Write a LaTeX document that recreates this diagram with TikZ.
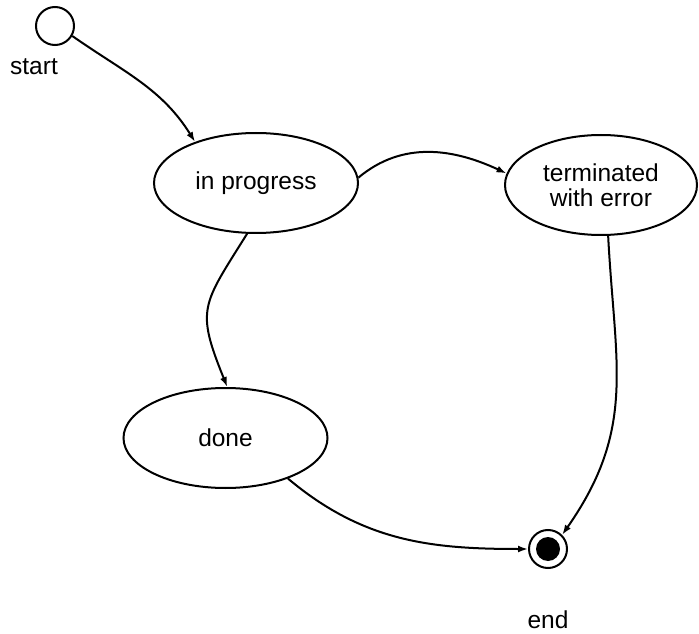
\documentclass[tikz,border=0pt]{standalone}
\usepackage{fontspec}
\setmainfont{Liberation Sans}
\usetikzlibrary{shapes.geometric,arrows.meta}

\begin{document}
\begin{tikzpicture}[x=1pt,y=1pt,every path/.style={>={Latex[length=10pt,width=7pt]}},
		every node/.style={font=\fontsize{24.5}{25}\selectfont},
		state/.style={ellipse,draw,line width=2pt,minimum width=204pt,minimum height=100pt,inner sep=0pt,align=center},
		trans/.style={line width=2pt}]
			\useasboundingbox (0,0) rectangle (699,633);

			\node[circle,draw,line width=2pt,minimum size=38pt,inner sep=0pt] (start) at (55,607) {};
			\node (startlbl) at (34,566) {start};
			\node[state] (prog) at (256,450) {in progress};
			\node[state,minimum width=192pt] (term) at (601,448) {terminated\\with error};
			\node[state] (done) at (225.5,195) {done};
			\node[circle,draw,line width=2pt,minimum size=38pt,inner sep=0pt] (end) at (548,84) {};
			\node[circle,fill,minimum size=24pt,inner sep=0pt] (endfill) at (548,84) {};
			\node[inner sep=1pt] (endlbl) at (548,13) {end};

			\draw[->,trans] (start.-30) to[out=-35,in=122] (prog.146);
			\draw[->,trans] (prog.3) to[out=40,in=155] (term.173);
			\draw[->,trans] (prog.260) to[out=-122,in=112,looseness=1.4] (done.88);
			\draw[->,trans] (done.-33) to[out=-40,in=180] (end.180);
			\draw[->,trans] (term.-82) to[out=-87,in=55,looseness=1.1] (end.45);
		\end{tikzpicture}
\end{document}
